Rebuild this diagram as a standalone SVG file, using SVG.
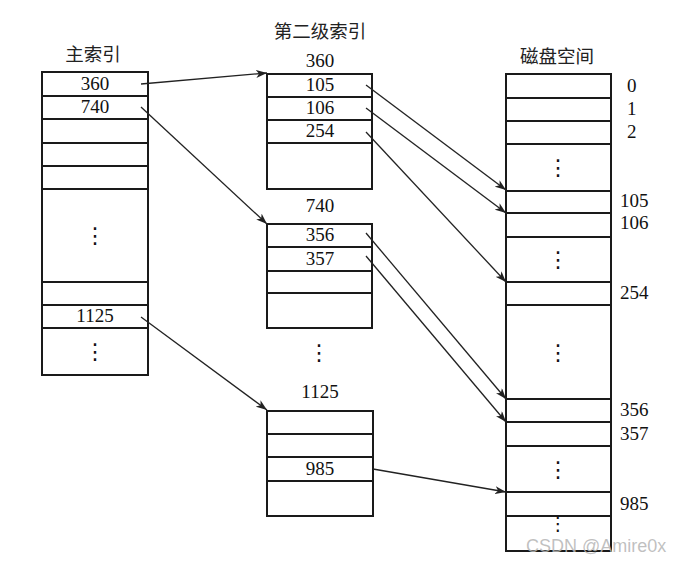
<svg xmlns="http://www.w3.org/2000/svg" width="682" height="561" viewBox="0 0 682 561">
<defs>
<style>
.box{fill:#fff;stroke:#1a1a1a;stroke-width:2}
.div{stroke:#1a1a1a;stroke-width:2}
.num{font-family:"Liberation Serif","Times New Roman",serif;font-size:19px;fill:#111}
.c{text-anchor:middle}
.cjk{font-family:"Liberation Serif","Noto Sans CJK SC",serif;font-size:18.5px;fill:#222;text-anchor:middle}
.dots{font-family:"DejaVu Sans",sans-serif;font-size:22px;fill:#111;text-anchor:middle}
.arr{stroke:#222;stroke-width:1.3;fill:none;marker-end:url(#ah)}
.wm{font-family:"Liberation Sans",Arial,sans-serif;font-size:18px;fill:#b5b5b5;fill-opacity:0.85}
</style>
<marker id="ah" markerUnits="userSpaceOnUse" markerWidth="12" markerHeight="8" refX="11" refY="4" orient="auto">
<path d="M0,0 L11,4 L0,8 L3,4 Z" fill="#222"/>
</marker>
</defs>
<rect width="682" height="561" fill="#fff"/>

<g id="main-index">
<text class="cjk" x="93" y="61">主索引</text>
<rect class="box" x="42" y="72" width="106" height="303"/>
<path class="div" d="M42,96H148M42,119H148M42,143H148M42,166H148M42,189H148M42,282H148M42,305H148M42,328H148"/>
<text class="num c" x="95" y="90">360</text>
<text class="num c" x="95" y="113">740</text>
<text class="dots" x="95" y="243">⋮</text>
<text class="num c" x="95" y="322">1125</text>
<text class="dots" x="95" y="359">⋮</text>
</g>

<g id="second-title">
<text class="cjk" x="320" y="38">第二级索引</text>
</g>

<g id="index-360">
<text class="num c" x="320" y="67">360</text>
<rect class="box" x="267" y="74" width="105" height="115"/>
<path class="div" d="M267,97H372M267,120H372M267,143H372"/>
<text class="num c" x="320" y="91">105</text>
<text class="num c" x="320" y="114">106</text>
<text class="num c" x="320" y="137">254</text>
</g>

<g id="index-740">
<text class="num c" x="320" y="212">740</text>
<rect class="box" x="267" y="224" width="105" height="104"/>
<path class="div" d="M267,247H372M267,271H372M267,293H372"/>
<text class="num c" x="320" y="241">356</text>
<text class="num c" x="320" y="265">357</text>
</g>

<g id="middle-dots">
<text class="dots" x="319" y="360">⋮</text>
</g>

<g id="index-1125">
<text class="num c" x="320" y="398">1125</text>
<rect class="box" x="267" y="411" width="106" height="105"/>
<path class="div" d="M267,434H373M267,457H373M267,481H373"/>
<text class="num c" x="320" y="475">985</text>
</g>

<g id="disk">
<text class="cjk" x="557" y="63">磁盘空间</text>
<rect class="box" x="506" y="74" width="105" height="477"/>
<path class="div" d="M506,98H611M506,121H611M506,144H611M506,191H611M506,213H611M506,237H611M506,282H611M506,305H611M506,399H611M506,422H611M506,446H611M506,492H611M506,516H611"/>
<text class="dots" x="558" y="175">⋮</text>
<text class="dots" x="558" y="267">⋮</text>
<text class="dots" x="558" y="360">⋮</text>
<text class="dots" x="558" y="477">⋮</text>
<text class="dots" x="558" y="530" style="font-size:19px">⋮</text>
<text class="num" x="627" y="92">0</text>
<text class="num" x="627" y="115">1</text>
<text class="num" x="627" y="138">2</text>
<text class="num" x="620" y="207">105</text>
<text class="num" x="620" y="229">106</text>
<text class="num" x="620" y="299">254</text>
<text class="num" x="620" y="416">356</text>
<text class="num" x="620" y="440">357</text>
<text class="num" x="620" y="510">985</text>
</g>

<g id="connectors">
<line class="arr" x1="141" y1="84" x2="267" y2="73"/>
<line class="arr" x1="141" y1="107" x2="267" y2="224"/>
<line class="arr" x1="141" y1="317" x2="267" y2="410"/>
<line class="arr" x1="366" y1="85" x2="506" y2="190"/>
<line class="arr" x1="366" y1="108" x2="506" y2="213"/>
<line class="arr" x1="366" y1="132" x2="506" y2="282"/>
<line class="arr" x1="366" y1="233" x2="506" y2="399"/>
<line class="arr" x1="366" y1="256" x2="506" y2="422"/>
<line class="arr" x1="373" y1="469" x2="506" y2="492"/>
</g>

<text class="wm" x="526" y="552">CSDN @Amire0x</text>
</svg>
